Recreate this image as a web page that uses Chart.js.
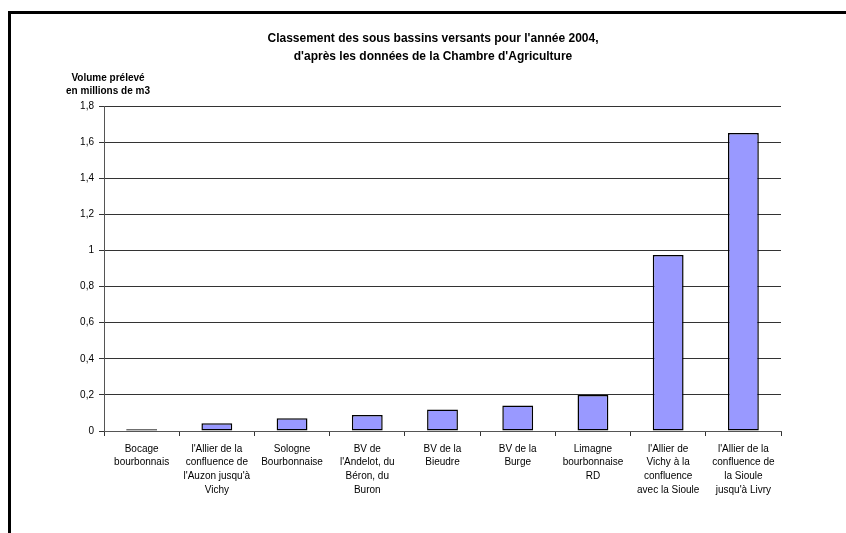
<!DOCTYPE html>
<html>
<head>
<meta charset="utf-8">
<title>Classement des sous bassins versants 2004</title>
<script src="https://cdn.jsdelivr.net/npm/chart.js@4"></script>
<style>
  html, body { margin: 0; padding: 0; background: #fff; }
  #wrap { width: 846px; height: 533px; position: relative; }
</style>
</head>
<body>
<div id="wrap"><canvas id="chart"></canvas></div>
<script>
// Sub-basins, ordered by volume drawn in 2004
const basins = [
  ['Bocage', 'bourbonnais'],
  ["l'Allier de la", 'confluence de', "l'Auzon jusqu'à", 'Vichy'],
  ['Sologne', 'Bourbonnaise'],
  ['BV de', "l'Andelot, du", 'Béron, du', 'Buron'],
  ['BV de la', 'Bieudre'],
  ['BV de la', 'Burge'],
  ['Limagne', 'bourbonnaise', 'RD'],
  ["l'Allier de", 'Vichy à la', 'confluence', 'avec la Sioule'],
  ["l'Allier de la", 'confluence de', 'la Sioule', "jusqu'à Livry"]
];
// Volume drawn, millions of m3
const volumes = [0.01, 0.043, 0.07, 0.089, 0.119, 0.141, 0.2, 0.975, 1.65];

const titleLines = [
  "Classement des sous bassins versants pour l'année 2004,",
  "d'après les données de la Chambre d'Agriculture"
];
const yTitleLines = ['Volume prélevé', 'en millions de m3'];

const FONT = '"Liberation Sans", Arial, sans-serif';
const GRID = '#333';

// frame, title and the horizontal y-axis caption
const decorations = {
  id: 'decorations',
  beforeDraw(chart) {
    const ctx = chart.ctx;
    ctx.save();
    ctx.strokeStyle = '#000';
    ctx.lineWidth = 3;
    ctx.beginPath();
    ctx.moveTo(9.5, chart.height);
    ctx.lineTo(9.5, 12.5);
    ctx.lineTo(chart.width, 12.5);
    ctx.stroke();
    ctx.restore();
  },
  afterDraw(chart) {
    const ctx = chart.ctx;
    const area = chart.chartArea;
    ctx.save();
    ctx.fillStyle = '#000';
    ctx.textAlign = 'center';
    ctx.textBaseline = 'middle';
    ctx.font = 'bold 12px ' + FONT;
    titleLines.forEach((t, i) => ctx.fillText(t, 433, 39 + i * 18));
    ctx.font = 'bold 10px ' + FONT;
    yTitleLines.forEach((t, i) => ctx.fillText(t, area.left + 4, area.top - 28 + i * 13));
    ctx.restore();
  }
};

new Chart(document.getElementById('chart'), {
  type: 'bar',
  data: {
    labels: basins,
    datasets: [{
      data: volumes,
      backgroundColor: '#9999FF',
      borderColor: '#000',
      borderWidth: 1.5,
      borderSkipped: false,
      barPercentage: 0.41,
      categoryPercentage: 1
    }]
  },
  options: {
    responsive: true,
    maintainAspectRatio: false,
    animation: false,
    layout: { padding: { top: 106, right: 65, bottom: 0, left: 0 } },
    plugins: {
      legend: { display: false },
      title: { display: false },
      tooltip: { enabled: false }
    },
    scales: {
      x: {
        grid: { drawOnChartArea: false, drawTicks: true, tickLength: 5, color: GRID, offset: true },
        border: { color: '#555', width: 1 },
        ticks: { color: '#000', font: { family: FONT, size: 10, lineHeight: 1.37 }, padding: 6, maxRotation: 0, autoSkip: false },
        afterFit(scale) { scale.height = 102; }
      },
      y: {
        min: 0,
        max: 1.8,
        ticks: {
          stepSize: 0.2,
          color: '#000',
          padding: 5,
          font: { family: FONT, size: 10 },
          callback: v => v === 0 ? '0' : String(Math.round(v * 10) / 10).replace('.', ',')
        },
        grid: { color: GRID, tickLength: 5, lineWidth: 1 },
        border: { color: '#555', width: 1 },
        afterFit(scale) { scale.width = 104; }
      }
    }
  },
  plugins: [decorations]
});
</script>
</body>
</html>
